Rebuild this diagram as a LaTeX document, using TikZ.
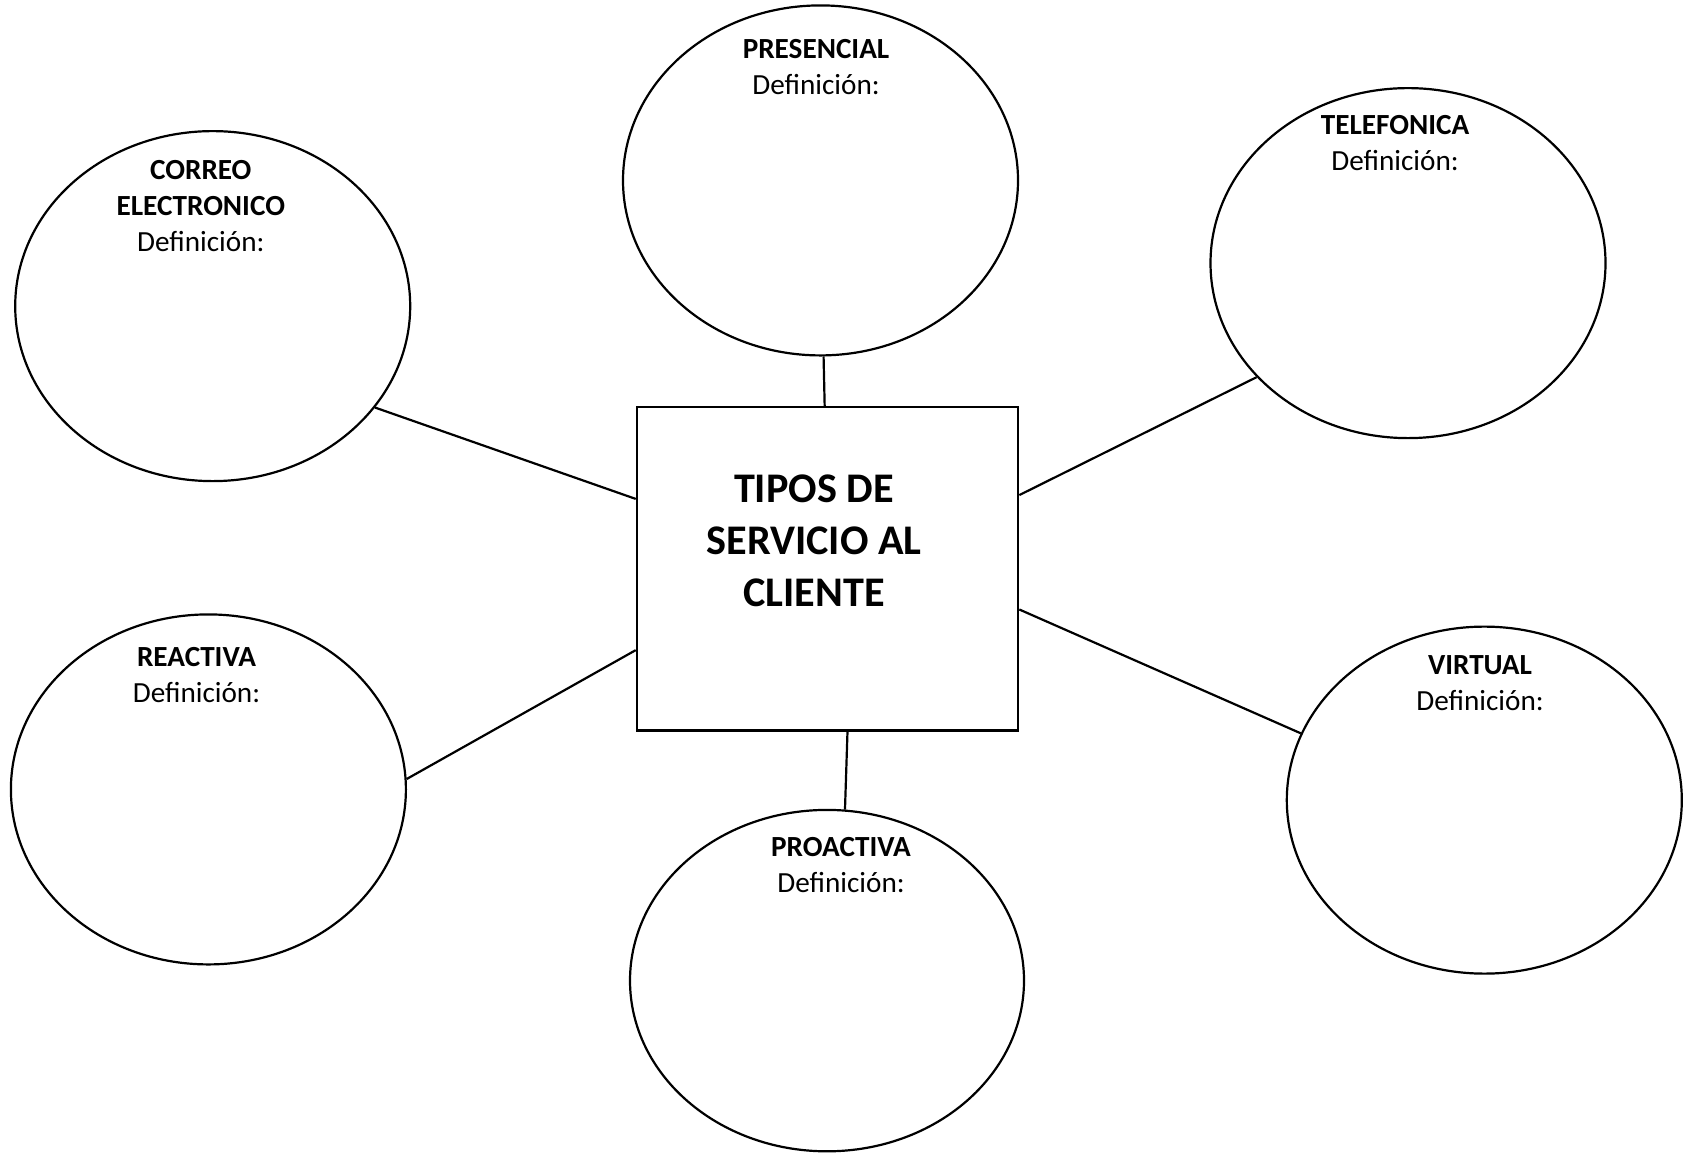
\documentclass[tikz,border=0pt]{standalone}
\usepackage{fontspec}
\setmainfont{Carlito}
\usetikzlibrary{shapes.geometric}
\begin{document}
\begin{tikzpicture}[x=0.5pt, y=-0.5pt, line width=1.1pt,
    circ/.style={draw, ellipse, inner sep=0pt, minimum width=197.5pt, minimum height=175pt},
    lbl/.style={align=center, font=\fontsize{14.6}{18}\selectfont},
    central/.style={draw, rectangle, inner sep=0pt, minimum width=190.7pt, minimum height=161.7pt}]
  \useasboundingbox (0,0) rectangle (1684,1153);
  \node[central] (tipos) at (827.5,568.7) {};
  \node[circ] (pres) at (820.5,180.4) {};
  \node[circ] (tel) at (1408,263.1) {};
  \node[circ] (cor) at (212.7,306.1) {};
  \node[circ] (rea) at (208.4,789.4) {};
  \node[circ, minimum height=173.5pt] (vir) at (1484.3,800.1) {};
  \node[circ, minimum width=197pt, minimum height=170.7pt] (pro) at (827,980.6) {};
  \node[align=center, font=\fontsize{21.1}{25.8}\selectfont\bfseries] (titulo) at (814,540.8) {TIPOS DE\\SERVICIO AL\\CLIENTE};
  \node[lbl] (tpres) at (816,66.6) {\textbf{PRESENCIAL}\\Definición:};
  \node[lbl] (ttel) at (1395,142.8) {\textbf{TELEFONICA}\\Definición:};
  \node[lbl] (tcor) at (200.8,206.2) {\textbf{CORREO}\\\textbf{ELECTRONICO}\\Definición:};
  \node[lbl] (trea) at (196.5,675) {\textbf{REACTIVA}\\Definición:};
  \node[lbl] (tvir) at (1480,683.6) {\textbf{VIRTUAL}\\Definición:};
  \node[lbl] (tpro) at (841,865) {\textbf{PROACTIVA}\\Definición:};
  \draw (pres.-89.7) to (tipos.91.3);
  \draw (tel.-143.5) to (tipos.21.4);
  \draw (cor.-32.6) to (tipos.160.4);
  \draw (rea.3.7) to (tipos.203.5);
  \draw (vir.160.3) to (tipos.-12.9);
  \draw (pro.84) to (tipos.-83);
\end{tikzpicture}
\end{document}
